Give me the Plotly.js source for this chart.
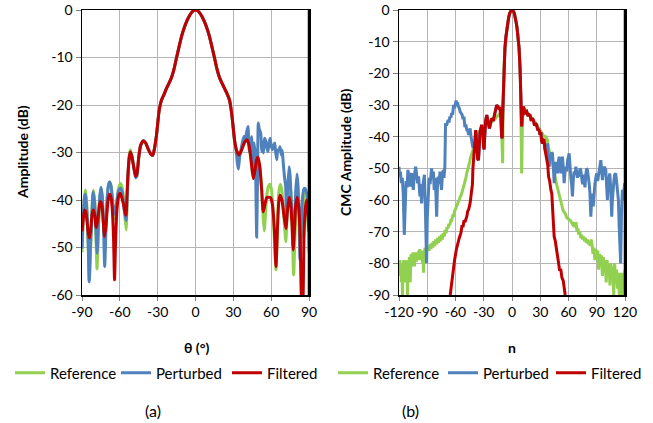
<!DOCTYPE html>
<html>
<head>
<meta charset="utf-8">
<script src="https://cdn.plot.ly/plotly-3.0.1.min.js"></script>
<style>html,body{margin:0;padding:0;background:#fff;}#chart{width:653px;height:423px;}</style>
</head>
<body>
<div id="chart"></div>
<script>
// ---------- labels and ticks ----------
const seriesNames = ["Reference", "Perturbed", "Filtered"];
const thetaTicks = [-90, -60, -30, 0, 30, 60, 90];
const thetaTickText = ["-90", "-60", "-30", "0", "30", "60", "90"];
const ampTicks = [-60, -50, -40, -30, -20, -10, 0];
const ampTickText = ["-60", "-50", "-40", "-30", "-20", "-10", "0"];
const nTicks = [-120, -90, -60, -30, 0, 30, 60, 90, 120];
const nTickText = ["-120", "-90", "-60", "-30", "0", "30", "60", "90", "120"];
const cmcTicks = [-90, -80, -70, -60, -50, -40, -30, -20, -10, 0];
const cmcTickText = ["-90", "-80", "-70", "-60", "-50", "-40", "-30", "-20", "-10", "0"];

// ---------- (a) Far-field pattern: [theta (deg), amplitude (dB)] ----------
const refA = [[-90,-51],[-89,-44],[-88,-39],[-87.2,-37.9],[-86.2,-41],[-85,-50],[-84.2,-56.8],[-83.2,-50],[-82,-41.5],[-81,-37.9],[-80,-40],[-79,-47],[-78.1,-54.5],[-77,-47],[-76,-40],[-75,-37.6],[-74,-39.5],[-73,-45],[-72,-49],[-71,-45],[-70,-39.5],[-69,-37],[-68,-36.2],[-67,-37],[-66,-39.5],[-65,-42.5],[-64,-44],[-63,-42.5],[-62,-39.5],[-61,-37.5],[-59.5,-36.5],[-58,-37.5],[-57,-40],[-56,-43.5],[-55,-46.3],[-54.3,-41],[-53.5,-34.5],[-52.5,-30.5],[-51.7,-29.4],[-50.5,-30.5],[-49,-33],[-47.5,-35],[-46.5,-34.6],[-45,-31],[-43.5,-28.5],[-41.2,-27.5],[-39.5,-28],[-37.5,-29.3],[-35.5,-30.3],[-34,-30.6],[-33,-29.8],[-32,-28.3],[-31,-26.5],[-30,-24],[-29,-21.5],[-28,-20],[-27,-19],[-25,-17.8],[-23,-16.5],[-21,-15.4],[-19,-14.2],[-17,-12.4],[-15,-10],[-13,-7.7],[-11,-5.5],[-9,-3.8],[-7,-2.4],[-5,-1.3],[-3,-0.5],[-1.5,-0.1],[0,0],[1.5,-0.1],[3,-0.5],[5,-1.3],[7,-2.4],[9,-3.8],[11,-5.5],[13,-7.7],[15,-10],[17,-12.4],[19,-14.2],[21,-15.4],[23,-16.5],[25,-17.6],[27,-19],[28,-20.5],[29,-22.5],[30,-25],[31,-27.5],[32.5,-29.5],[34.5,-30.5],[36.5,-29.5],[39,-27.8],[41,-27.3],[42.5,-28.5],[44,-31.5],[45.8,-35.5],[47,-34],[48.5,-31.5],[49.5,-31],[51,-33],[52.5,-38],[53.5,-43],[54.5,-46.5],[55.5,-43],[56.5,-39],[58,-37],[59,-36.7],[60,-37.5],[61,-40],[62.5,-48],[63.8,-54.7],[65,-46],[66,-38.5],[67.3,-36.7],[68.5,-38],[70,-43],[71.6,-48.8],[73,-41],[74.3,-36.7],[75.5,-38],[76.5,-44],[77.8,-55.8],[79,-47],[80,-41],[81,-39.4],[82,-41],[83.5,-48],[85,-46],[86.2,-39.5],[87.3,-38],[88.3,-40],[89.2,-45],[90,-51]];

const pertA = [[-90,-50.2],[-89,-43],[-88,-39.5],[-87.2,-38.8],[-86.2,-42],[-85,-50],[-84.3,-57.2],[-83.3,-50],[-82,-42],[-81.2,-38.3],[-80,-40.5],[-79,-46],[-78,-51.2],[-77,-45],[-76,-39.5],[-75,-37.3],[-74,-39],[-73,-45],[-72,-54],[-71,-46],[-70,-39.5],[-69,-36.8],[-68.2,-36.2],[-67,-37],[-66,-39.5],[-65,-42],[-64,-43],[-63,-41.5],[-62,-39.5],[-61,-38],[-59.5,-37.5],[-58,-38.5],[-57,-41],[-56,-43],[-55,-44.3],[-54.3,-40],[-53.5,-34.5],[-52.5,-31],[-51.7,-30],[-50.5,-30.8],[-49,-33],[-47.5,-35.3],[-46.5,-35],[-45,-31],[-43.5,-28.5],[-41.2,-27.5],[-39.5,-28],[-37.5,-29.3],[-35.5,-30.3],[-34,-30.6],[-33,-29.8],[-32,-28.3],[-31,-26.5],[-30,-24],[-29,-21.5],[-28,-20],[-27,-19],[-25,-17.8],[-23,-16.5],[-21,-15.4],[-19,-14.2],[-17,-12.4],[-15,-10],[-13,-7.7],[-11,-5.5],[-9,-3.8],[-7,-2.4],[-5,-1.3],[-3,-0.5],[-1.5,-0.1],[0,0],[1.5,-0.1],[3,-0.5],[5,-1.3],[7,-2.4],[9,-3.8],[11,-5.5],[13,-7.7],[15,-10],[17,-12.4],[19,-14.2],[21,-15.4],[23,-16.5],[25,-17.6],[27,-19],[28,-20.5],[29,-22.5],[30,-25],[31,-27.5],[32,-29],[33.2,-32.3],[34,-33.5],[35,-31],[36,-29.5],[37.1,-28],[38.5,-26.6],[39.5,-27.5],[40.5,-25.8],[41.6,-24.5],[42.7,-29.8],[43.8,-28.7],[44.5,-26.7],[45.1,-31.9],[45.8,-34],[46.4,-28],[47.2,-30],[47.8,-36],[48.5,-47.8],[49.2,-35],[49.8,-23.8],[50.5,-25],[51.7,-25.9],[52.5,-29.8],[53.2,-28],[53.8,-30.1],[54.7,-27],[55.7,-27.5],[56.5,-29],[57.5,-29.8],[58.3,-28],[59.1,-27],[60,-28.5],[61,-29.4],[62,-28.5],[62.8,-28],[63.6,-30],[64.4,-31.5],[65.3,-29.5],[66.2,-29.4],[67,-28.8],[68,-30.5],[68.8,-29.5],[69.6,-32.3],[70.5,-35],[71.5,-37.2],[72.2,-44],[73,-38],[74.2,-33],[75,-34.8],[76,-40.7],[77,-46],[77.5,-49.8],[78.5,-44],[79.5,-38],[80.5,-34.5],[81.3,-37],[82,-42],[82.8,-52.6],[83.7,-47],[84.5,-41],[85.3,-38.5],[86,-37.6],[87,-37.6],[88.5,-39],[89.3,-41],[90,-45.6]];

const filtA = [[-90,-46.6],[-89,-44],[-88,-42.1],[-87,-42.5],[-86,-44.5],[-85,-47],[-84,-48],[-83,-46],[-82,-43],[-81,-42.1],[-80,-43],[-79,-45.5],[-78.5,-45.8],[-77,-43],[-76,-40.8],[-75.2,-40.3],[-74,-41.5],[-73,-45],[-72.2,-47.7],[-71,-45.5],[-70,-42],[-69,-39.5],[-68,-38.8],[-67,-39.5],[-66,-42],[-65,-48],[-64.2,-56.8],[-63.5,-50],[-62.5,-43],[-61.5,-40],[-60.5,-38.8],[-59.5,-38.6],[-58.5,-39.5],[-57,-41],[-56,-42.5],[-55,-43.2],[-54.5,-40],[-53.5,-34.5],[-52.5,-31],[-51.7,-29.9],[-50.5,-30.8],[-49,-33],[-47.5,-35],[-46.5,-34.6],[-45,-31],[-43.5,-28.5],[-41.2,-27.5],[-39.5,-28],[-37.5,-29.3],[-35.5,-30.3],[-34,-30.6],[-33,-29.8],[-32,-28.3],[-31,-26.5],[-30,-24],[-29,-21.5],[-28,-20],[-27,-19],[-25,-17.8],[-23,-16.5],[-21,-15.4],[-19,-14.2],[-17,-12.4],[-15,-10],[-13,-7.7],[-11,-5.5],[-9,-3.8],[-7,-2.4],[-5,-1.3],[-3,-0.5],[-1.5,-0.1],[0,0],[1.5,-0.1],[3,-0.5],[5,-1.3],[7,-2.4],[9,-3.8],[11,-5.5],[13,-7.7],[15,-10],[17,-12.4],[19,-14.2],[21,-15.4],[23,-16.5],[25,-17.6],[27,-19],[28,-20.5],[29,-22.5],[30,-25],[31,-27.5],[32.5,-29.5],[34.5,-30.5],[36.5,-29.5],[39,-27.8],[41,-27.3],[42.5,-28.5],[44,-31.5],[45.8,-35.5],[47,-34],[48.5,-31.5],[49.5,-31],[51,-33],[52.5,-38],[53.7,-42.5],[55,-41],[56.5,-39.5],[58,-39.4],[59.5,-39.5],[61,-41],[62.5,-46],[63.8,-54],[65,-46],[66,-40.5],[67,-39],[68.5,-40],[70,-43],[71.7,-46],[73,-42],[74.3,-39.4],[75.5,-41],[76.5,-45],[77.5,-50.5],[78.5,-46],[79.5,-41],[80.7,-39.4],[82,-42],[83,-48],[84.1,-61],[85,-62],[86,-48],[87,-42],[88.1,-40],[89,-42],[90,-46.7]];

// ---------- (b) CMC spectrum: [n, CMC amplitude (dB)] ----------
const refB = [[-120,-80],[-119.5,-84],[-119,-79],[-118.5,-83],[-118,-80],[-117.5,-86],[-117,-81],[-116.3,-90],[-115.8,-83],[-115,-79],[-114.5,-84],[-114,-80],[-113.5,-86],[-113,-81],[-112.5,-79],[-112,-84],[-111.5,-82],[-111,-90],[-110.5,-82],[-110,-79],[-109.5,-83],[-109,-78],[-108.5,-81],[-108,-86],[-107.5,-79],[-107,-77],[-106.5,-81],[-106,-78],[-105.5,-80],[-105,-76.5],[-104.5,-80],[-104,-78],[-103.5,-81],[-103,-77.5],[-102.5,-79],[-102,-76.5],[-101.5,-79.5],[-101,-77],[-100.5,-78.5],[-100,-76.5],[-99.5,-79],[-99,-76],[-98.5,-78],[-98,-75.5],[-97.5,-78],[-97,-76],[-96.5,-79],[-96,-76],[-95.5,-78],[-95,-80],[-94.5,-76],[-94,-83],[-93.5,-77],[-93,-79],[-92.5,-75],[-92,-77.5],[-91.5,-75.5],[-91,-77],[-90.5,-74.5],[-90,-76],[-89,-74.5],[-88,-76],[-87,-74],[-86,-75.5],[-85,-73.5],[-84,-75],[-83,-73],[-82,-74.5],[-81,-72.5],[-80,-74],[-79,-72],[-78,-73.5],[-77,-71.5],[-76,-73],[-75,-71],[-74,-72.5],[-73,-70.5],[-72,-71.5],[-71,-69.5],[-70,-70.5],[-69,-68.5],[-68,-69],[-67,-67.5],[-66,-68],[-65,-66.5],[-64,-66.5],[-63,-65],[-62,-65],[-61,-63.5],[-60,-63],[-59,-62],[-58,-61.5],[-57,-60.5],[-56,-60],[-55,-59],[-54,-58.5],[-53,-57.5],[-52,-56.5],[-51,-55.5],[-50,-54.5],[-49,-53],[-48,-51.5],[-47,-50.5],[-46,-49.5],[-45,-48],[-44,-46.5],[-43,-45.5],[-42,-44.5],[-41,-43.5],[-40,-42.5],[-39,-41.5],[-38,-40.5],[-37,-40],[-36,-39],[-35,-38.5],[-34,-38],[-33,-37.5],[-32,-37],[-30,-36.5],[-28,-35.5],[-26,-35.5],[-24,-36],[-23.3,-36.8],[-22,-35.5],[-20,-35],[-18,-34.5],[-16.2,-33.7],[-14,-33],[-12.7,-32.6],[-11.5,-34],[-10.5,-40],[-9.9,-48.4],[-9.5,-33],[-9,-22],[-8.5,-18],[-7.5,-12],[-6.5,-8.5],[-5.5,-6],[-4.5,-4],[-3.5,-2.3],[-2.5,-1.1],[-1.5,-0.4],[0,0],[1.5,-0.4],[2.5,-1.1],[3.5,-2.3],[4.5,-4],[5.5,-6],[6.5,-8.5],[7.5,-12],[8.5,-18],[9,-22],[9.5,-35],[10.3,-51.6],[11,-36],[12,-30.5],[15,-32],[19,-33.3],[22,-34.5],[26,-36],[29,-37.5],[32.5,-39],[34.2,-40],[36,-40],[37.5,-41],[39.5,-44.5],[41,-46],[43,-48.5],[44,-50],[45.5,-53],[47.3,-55],[49,-57],[50,-58.3],[52,-60.5],[54.4,-63.5],[56,-64],[57,-64.5],[58,-65.5],[60,-66],[62,-66.5],[64,-67.5],[65,-67],[66,-68.5],[67,-68],[68,-67],[69,-70],[70,-69],[71,-71],[72,-70],[73,-72],[74,-71],[75,-72.5],[76,-71.5],[77,-73],[78,-72],[79,-73.5],[80,-72.5],[81,-74],[82,-73],[83,-74.5],[84,-72.5],[85,-74],[86,-77],[87,-75],[88,-79],[89,-75.5],[90,-78],[91,-76],[92,-82],[93,-77],[94,-80],[95,-77.5],[96,-84],[97,-78],[98,-83],[99,-79],[100,-86],[101,-79],[102,-84],[103,-80],[104,-87],[105,-80],[106,-85],[107,-81],[108,-90],[108.5,-82],[109,-80],[110,-86],[111,-82],[112,-88],[113,-83],[114,-90],[114.5,-84],[115,-88],[116,-83],[117,-90],[117.5,-84],[118,-88],[119,-83],[119.5,-87],[120,-82]];

const pertB = [[-120,-49.5],[-119.3,-52.6],[-118.5,-51],[-117.5,-54.7],[-116.5,-53],[-115.5,-58],[-114.4,-71],[-113.5,-60],[-112.5,-54],[-111.5,-56],[-110.5,-50.5],[-109.5,-53],[-108.4,-55.8],[-107.5,-52],[-106.6,-51.6],[-105.8,-54],[-104.8,-56.8],[-104,-53],[-103,-51],[-102.3,-49.5],[-101.3,-52],[-100.2,-54.7],[-99.2,-52.5],[-98.5,-56],[-97.8,-58.9],[-97,-55],[-96,-61.1],[-95,-56],[-94,-54],[-93,-52],[-92.2,-60],[-91.4,-72],[-90.7,-80],[-90,-66],[-89,-55.8],[-88,-53],[-87,-55],[-86.2,-51],[-85.4,-50],[-84.5,-53],[-83.5,-51],[-82.6,-56.8],[-81.7,-53],[-80.8,-58],[-80,-65.3],[-79.2,-56],[-78.3,-52.6],[-77.4,-55],[-76.5,-51],[-75.7,-54],[-74.8,-56.8],[-73.9,-52],[-73,-50.5],[-72.2,-53],[-71.3,-49.5],[-70.9,-42],[-70.6,-35.8],[-69.5,-36.5],[-68.7,-35],[-67.8,-34.7],[-66.9,-35.5],[-66,-33.7],[-65,-34],[-64,-32.5],[-63,-33],[-62.1,-30],[-61,-31],[-60.2,-29.5],[-59.4,-28.6],[-58.6,-29.5],[-57.8,-29.2],[-57,-30.5],[-56,-31],[-55,-32.2],[-54,-32.6],[-53,-33],[-52,-34.5],[-51,-33.7],[-50,-37],[-49,-36.2],[-48,-37.9],[-47,-38],[-46,-39.5],[-45,-38],[-44.5,-37.4],[-43.5,-40],[-42.5,-42],[-41.5,-43.5],[-40.5,-41.5],[-39.5,-45],[-39,-40],[-38.5,-37.9],[-37.5,-42],[-36.5,-47],[-35.6,-47.4],[-34.8,-42],[-33.9,-38.4],[-32.1,-36.3],[-31,-38],[-30.2,-43.2],[-29.6,-44],[-29,-40],[-28,-35],[-26.8,-33.2],[-25.5,-35],[-24,-37.4],[-23,-36],[-21.5,-34.2],[-20,-35],[-18.7,-33.2],[-17.5,-31.5],[-16.2,-30],[-15,-30.5],[-14,-31],[-12.7,-31],[-11.8,-34],[-11,-40],[-10.4,-40.5],[-9.8,-32],[-9,-22],[-8.5,-18],[-7.5,-12],[-6.5,-8.5],[-5.5,-6],[-4.5,-4],[-3.5,-2.3],[-2.5,-1.1],[-1.5,-0.4],[0,0],[1.5,-0.4],[2.5,-1.1],[3.5,-2.3],[4.5,-4],[5.5,-6],[6.5,-8.5],[7.5,-12],[8.5,-18],[9.2,-24],[9.7,-30],[10.3,-36.8],[11,-33],[12,-30.5],[13,-31.5],[14,-32.5],[15.6,-32.1],[17,-33.5],[18,-33],[19.1,-33.2],[20.5,-35],[21.5,-34.2],[22.6,-34.7],[24,-36.5],[25,-35.8],[26.1,-36.3],[27.5,-38],[28.5,-37.5],[29.5,-39],[30.7,-39],[31.5,-41.5],[32.5,-42.1],[33.5,-41],[35,-44],[36.7,-45],[37.7,-42.1],[38.5,-46],[39.5,-49.5],[40.3,-46.3],[41.2,-47],[42,-45],[43,-45.3],[44,-50],[44.8,-54.7],[45.6,-51],[46.5,-48],[47.3,-49.5],[48.3,-51.6],[49.2,-48],[50.1,-46.3],[51,-49],[51.9,-51.6],[52.8,-48],[53.6,-46.3],[54.5,-50],[55.4,-54.7],[56.3,-51],[57.2,-49.5],[58.2,-51],[59,-47.5],[60.7,-45.3],[61.5,-50],[62.5,-53],[63.3,-55],[64.2,-58.9],[65,-54],[66,-51],[67,-52],[67.8,-49.5],[68.7,-51],[69.5,-53],[70.4,-51],[71.3,-52.6],[72.2,-50],[73,-50.5],[74,-53],[75,-55],[75.8,-52],[76.6,-53.7],[77.5,-56],[78.4,-52],[79.2,-50],[80.1,-50.5],[81,-52],[82,-55],[82.8,-58],[83.7,-65.3],[84.6,-60],[85.5,-58],[86.3,-62],[87.2,-56.8],[88,-55],[89,-53],[90,-51.6],[91,-54],[92,-52],[93,-49],[94.3,-47.4],[95.2,-50.5],[96,-53.7],[97,-51],[98,-49.5],[99.6,-50.5],[100.5,-55],[101.3,-60],[102.2,-55],[103,-53],[103.8,-51.6],[104.8,-56],[105.9,-65.3],[106.6,-60],[107.3,-56],[108.2,-54],[109,-52],[110.1,-51.6],[111,-54],[112,-57],[113,-60],[113.7,-67.4],[114.5,-72],[115.4,-80],[116.2,-65],[117.2,-56.8],[118,-60],[119,-55],[119.7,-54.7],[120,-60]];

const filtB = [[-65.6,-90],[-64,-85.5],[-62,-81],[-61,-79],[-59,-75.5],[-58,-74],[-56,-72],[-54.3,-70.5],[-53,-68],[-52,-68.5],[-51,-66.5],[-50,-67],[-48,-65.2],[-47,-63.5],[-46,-63],[-44.5,-61],[-43.5,-59],[-42.7,-57.9],[-42,-55],[-41.5,-50],[-41,-47.4],[-40,-44],[-39,-40],[-38.5,-37.9],[-37.5,-42],[-36.5,-47],[-35.6,-47.4],[-34.8,-42],[-33.9,-38.4],[-32.1,-36.3],[-31,-38],[-30.2,-43.2],[-29.6,-44],[-29,-40],[-28,-35],[-26.8,-33.2],[-25.5,-35],[-24,-37.4],[-23,-36],[-21.5,-34.2],[-20,-35],[-18.7,-33.2],[-17.5,-31.5],[-16.2,-30],[-15,-30.5],[-14,-31],[-12.7,-31],[-11.8,-34],[-11,-40],[-10.4,-40.5],[-9.8,-32],[-9,-22],[-8.5,-18],[-7.5,-12],[-6.5,-8.5],[-5.5,-6],[-4.5,-4],[-3.5,-2.3],[-2.5,-1.1],[-1.5,-0.4],[0,0],[1.5,-0.4],[2.5,-1.1],[3.5,-2.3],[4.5,-4],[5.5,-6],[6.5,-8.5],[7.5,-12],[8.5,-18],[9.2,-24],[9.7,-30],[10.3,-36.8],[11,-33],[12,-30.5],[13,-31.5],[14,-32.5],[15.6,-32.1],[17,-33.5],[18,-33],[19.1,-33.2],[20.5,-35],[21.5,-34.2],[22.6,-34.7],[24,-36.5],[25,-35.8],[26.1,-36.3],[27.5,-38],[28.5,-37.5],[29.5,-39],[30.7,-39],[31.5,-41.5],[32.5,-42.1],[33.5,-41],[34.2,-41.1],[35,-44],[36,-45.8],[37,-48],[38,-49],[38.8,-52.6],[40,-54],[41.3,-56.8],[42.3,-58],[43,-62.1],[44,-67],[44.8,-71.6],[46,-73],[47,-75],[48.3,-77.9],[49.5,-79],[50.5,-82],[51.9,-82.1],[53,-84.5],[54.4,-85.5],[55.4,-88.4],[56.5,-90]];

// ---------- styling ----------
const colors = ["#92D050", "#4F81BD", "#C00000"];
const FONT = "Lato, 'Open Sans', sans-serif";
const W = 653, H = 423;
const px = v => v / W, py = v => 1 - v / H;

function mk(pairs, i, xa, ya, leg, shape) {
  return {
    x: pairs.map(p => p[0]), y: pairs.map(p => p[1]),
    type: "scatter", mode: "lines", name: seriesNames[i],
    xaxis: xa, yaxis: ya, legend: leg, showlegend: true,
    line: {color: colors[i], width: 3, shape: shape, smoothing: 0.6}
  };
}

const traces = [
  mk(refA, 0, "x", "y", "legend", "spline"),
  mk(pertA, 1, "x", "y", "legend2", "spline"),
  mk(filtA, 2, "x", "y", "legend3", "spline"),
  mk(refB, 0, "x2", "y2", "legend4", "linear"),
  mk(pertB, 1, "x2", "y2", "legend5", "linear"),
  mk(filtB, 2, "x2", "y2", "legend6", "linear")
];

const axBase = {
  showgrid: true, gridcolor: "#b5b5b5", gridwidth: 1, zeroline: false,
  showline: true, linecolor: "#000", linewidth: 1.5, mirror: true,
  ticks: "outside", tickcolor: "#808080", tickangle: 0, tickmode: "array",
  tickfont: {family: FONT, size: 14, color: "#000"},
  fixedrange: true
};

function leg(xpx) {
  return {orientation: "h", x: px(xpx), xanchor: "left", y: py(373), yanchor: "middle",
    font: {family: FONT, size: 15, color: "#000"}, bgcolor: "rgba(0,0,0,0)",
    itemwidth: 30, tracegroupgap: 0};
}

function ann(text, x, y, size, angle) {
  return {text: text, x: px(x), y: py(y), xref: "paper", yref: "paper", xanchor: "center", yanchor: "middle",
          textangle: angle || 0, showarrow: false, font: {family: FONT, size: size, color: "#000"}};
}

const layout = {
  width: W, height: H,
  margin: {l: 0, r: 0, t: 0, b: 0},
  paper_bgcolor: "#fff", plot_bgcolor: "#fff",
  font: {family: FONT, color: "#000"},
  showlegend: true,
  xaxis: Object.assign({}, axBase, {domain: [px(82), px(309)], range: [-90, 90], tickvals: thetaTicks, ticktext: thetaTickText, ticklen: 4, anchor: "y"}),
  yaxis: Object.assign({}, axBase, {domain: [py(295), py(10)], range: [-60, 0], tickvals: ampTicks, ticktext: ampTickText, ticklen: 5, anchor: "x"}),
  xaxis2: Object.assign({}, axBase, {domain: [px(399), px(625)], range: [-120, 120], tickvals: nTicks, ticktext: nTickText, ticklen: 4, anchor: "y2"}),
  yaxis2: Object.assign({}, axBase, {domain: [py(295), py(10)], range: [-90, 0], tickvals: cmcTicks, ticktext: cmcTickText, ticklen: 5, anchor: "x2"}),
  legend: leg(10), legend2: leg(116), legend3: leg(227),
  legend4: leg(333), legend5: leg(443), legend6: leg(551),
  shapes: [
    {type: "line", xref: "x domain", yref: "y domain", x0: 1, x1: 1, y0: 0, y1: 1, line: {color: "#000", width: 2.5}},
    {type: "line", xref: "x2 domain", yref: "y2 domain", x0: 1, x1: 1, y0: 0, y1: 1, line: {color: "#000", width: 2.5}}
  ],
  annotations: [
    ann("<b>Amplitude (dB)</b>", 22, 152, 14, -90),
    ann("<b>CMC Amplitude (dB)</b>", 345, 152, 14, -90),
    ann("<b>θ (°)</b>", 196, 347, 14),
    ann("<b>n</b>", 512, 347, 14),
    ann("(a)", 153, 410, 16),
    ann("(b)", 410, 410, 16)
  ]
};

Plotly.newPlot("chart", traces, layout, {staticPlot: true, displayModeBar: false});
</script>
</body>
</html>
